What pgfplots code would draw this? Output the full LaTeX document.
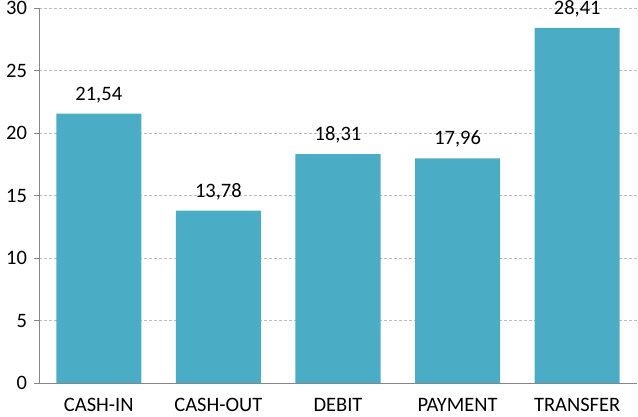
\documentclass[border=0pt]{standalone}
\usepackage{fontspec}
\setmainfont{Carlito}
\usepackage{pgfplots}
\pgfplotsset{compat=1.18}
\definecolor{barblue}{RGB}{75,172,198}
\definecolor{axgray}{RGB}{134,134,134}
\definecolor{gridgray}{RGB}{190,190,190}

\begin{document}
\fontsize{20.5bp}{24bp}\selectfont
\begin{tikzpicture}
\begin{axis}[name=ax, scale only axis, width=598bp, height=375bp,
  xmin=-0.5, xmax=4.5, ymin=0, ymax=30, ytick={0,5,...,30},
  xtick={0,1,2,3,4}, xticklabels={CASH-IN,CASH-OUT,DEBIT,PAYMENT,TRANSFER},
  x tick style={draw=none},
  extra x ticks={-0.5,0.5,1.5,2.5,3.5,4.5}, extra x tick labels={},
  extra x tick style={tick style={draw=axgray, thin}, major tick length=5bp, grid=none},
  axis x line*=bottom, axis y line*=left,
  axis line style={axgray, thin, -},
  y tick style={axgray, thin}, tick align=outside, major tick length=5bp,
  ymajorgrids, grid style={gridgray, dash pattern=on 3bp off 2bp, thin},
  /pgf/number format/assume math mode=true,
  tick label style={font=\fontsize{20.5bp}{24bp}\selectfont},
  xticklabel style={yshift=-3bp},
  ybar, bar width=85bp,
  nodes near coords, every node near coord/.append style={font=\fontsize{20.5bp}{24bp}\selectfont, yshift=4bp,
    /pgf/number format/.cd, fixed, fixed zerofill, precision=2, use comma, assume math mode=true}]
\addplot[fill=barblue, draw=none] coordinates {(0,21.54) (1,13.78) (2,18.31) (3,17.96) (4,28.41)};
\end{axis}
\pgfresetboundingbox
\path (-39bp,-34bp) rectangle (599bp,383bp);
\end{tikzpicture}
\end{document}
